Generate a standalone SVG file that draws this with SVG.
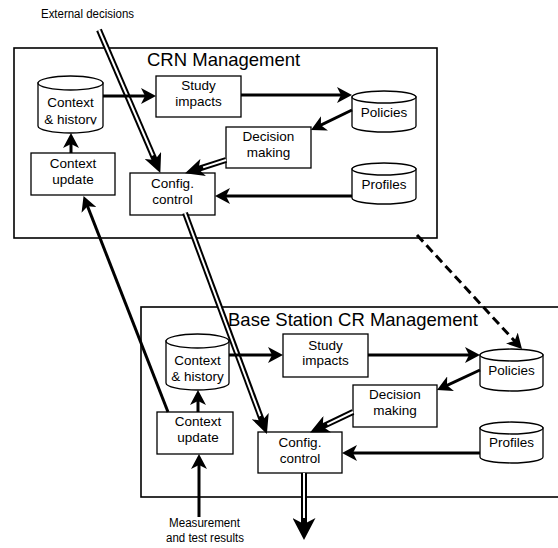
<svg xmlns="http://www.w3.org/2000/svg" width="558" height="548" viewBox="0 0 558 548">
<style>
.frame{fill:none;stroke:#000;stroke-width:1.6}
.nd{fill:#fff;stroke:#000;stroke-width:1.3}
.t{font-family:"Liberation Sans",Arial,sans-serif;font-size:13.5px;fill:#000;text-anchor:middle}
.title{font-family:"Liberation Sans",Arial,sans-serif;font-size:18.5px;fill:#000}
.sm{font-family:"Liberation Sans",Arial,sans-serif;font-size:12px;fill:#000;text-anchor:middle}
.a{fill:none;stroke:#000;stroke-width:3;marker-end:url(#ah)}
.d{fill:none;stroke:#000;stroke-width:3;stroke-dasharray:9 5;marker-end:url(#ah)}
.db{fill:none;stroke:#000;stroke-width:6;marker-end:url(#dh)}
.db2{fill:none;stroke:#000;stroke-width:6;marker-end:url(#dh2)}
.dw{fill:none;stroke:#fff;stroke-width:2}
</style>
<defs>
<marker id="ah" markerUnits="userSpaceOnUse" markerWidth="15" markerHeight="16" refX="11" refY="8" orient="auto" viewBox="0 0 15 16">
<path d="M0,0 L15,8 L0,16 L4,8 z" fill="#000"/>
</marker>
<marker id="dh" markerUnits="userSpaceOnUse" markerWidth="19" markerHeight="18" refX="9" refY="9" orient="auto" viewBox="0 0 19 18">
<path d="M0,0 L19,9 L0,18 L5,9 z" fill="#000"/>
</marker>
<marker id="dh2" markerUnits="userSpaceOnUse" markerWidth="22" markerHeight="23" refX="10" refY="11.5" orient="auto" viewBox="0 0 22 23">
<path d="M0,0 L22,11.5 L0,23 L6,11.5 z" fill="#000"/>
</marker>
<clipPath id="clipH1"><rect x="30" y="80" width="80" height="44.5"/></clipPath>
</defs>

<g id="crn-management">
<rect class="frame" x="14" y="48" width="423" height="190"/>
<text class="title" x="147" y="66">CRN Management</text>
</g>
<g id="bs-management">
<rect class="frame" x="141" y="307" width="425" height="190"/>
<text class="title" x="228" y="326">Base Station CR Management</text>
</g>

<g id="ctx1">
<path class="nd" d="M38,83 V126 A32.5,7 0 0 0 103,126 V83 Z"/>
<ellipse class="nd" cx="70.5" cy="83" rx="32.5" ry="7"/>
<text class="t" x="70.5" y="107">Context</text>
<text class="t" x="70.5" y="124" clip-path="url(#clipH1)">&amp; history</text>
</g>
<g id="study1">
<rect class="nd" x="156" y="76" width="85" height="41"/>
<text class="t" x="198.5" y="90">Study</text>
<text class="t" x="198.5" y="106">impacts</text>
</g>
<g id="update1">
<rect class="nd" x="31" y="153" width="84" height="42"/>
<text class="t" x="73" y="168">Context</text>
<text class="t" x="73" y="184">update</text>
</g>
<g id="config1">
<rect class="nd" x="130" y="173" width="85" height="42"/>
<text class="t" x="172.5" y="188">Config.</text>
<text class="t" x="172.5" y="204">control</text>
</g>
<g id="decision1">
<rect class="nd" x="226" y="127" width="85" height="41"/>
<text class="t" x="268.5" y="141">Decision</text>
<text class="t" x="268.5" y="157">making</text>
</g>
<g id="policies1">
<path class="nd" d="M352,97 V126 A32,6 0 0 0 416,126 V97 Z"/>
<ellipse class="nd" cx="384" cy="97" rx="32" ry="6"/>
<text class="t" x="384" y="117">Policies</text>
</g>
<g id="profiles1">
<path class="nd" d="M352,169 V198 A32,6 0 0 0 416,198 V169 Z"/>
<ellipse class="nd" cx="384" cy="169" rx="32" ry="6"/>
<text class="t" x="384" y="189">Profiles</text>
</g>

<g id="ctx2">
<path class="nd" d="M166,341 V383 A31.5,7 0 0 0 229,383 V341 Z"/>
<ellipse class="nd" cx="197.5" cy="341" rx="31.5" ry="7"/>
<text class="t" x="197.5" y="365">Context</text>
<text class="t" x="197.5" y="381">&amp; history</text>
</g>
<g id="study2">
<rect class="nd" x="283" y="334" width="85" height="43"/>
<text class="t" x="325.5" y="350">Study</text>
<text class="t" x="325.5" y="365">impacts</text>
</g>
<g id="update2">
<rect class="nd" x="157" y="412" width="76" height="42"/>
<text class="t" x="198" y="426">Context</text>
<text class="t" x="198" y="442">update</text>
</g>
<g id="config2">
<rect class="nd" x="258" y="432" width="84" height="41"/>
<text class="t" x="300" y="447">Config.</text>
<text class="t" x="300" y="463">control</text>
</g>
<g id="decision2">
<rect class="nd" x="353" y="385" width="84" height="42"/>
<text class="t" x="395" y="399">Decision</text>
<text class="t" x="395" y="415">making</text>
</g>
<g id="policies2">
<path class="nd" d="M480,355 V385 A31.5,6 0 0 0 543,385 V355 Z"/>
<ellipse class="nd" cx="511.5" cy="355" rx="31.5" ry="6"/>
<text class="t" x="511.5" y="375">Policies</text>
</g>
<g id="profiles2">
<path class="nd" d="M480,428 V457 A31.5,6 0 0 0 543,457 V428 Z"/>
<ellipse class="nd" cx="511.5" cy="428" rx="31.5" ry="6"/>
<text class="t" x="511.5" y="447">Profiles</text>
</g>

<g id="labels">
<text class="sm" x="87.5" y="18" textLength="93" lengthAdjust="spacingAndGlyphs">External decisions</text>
<text class="sm" x="204.5" y="527" textLength="71" lengthAdjust="spacingAndGlyphs">Measurement</text>
<text class="sm" x="205" y="542" textLength="78" lengthAdjust="spacingAndGlyphs">and test results</text>
</g>

<g id="connectors">
<path class="db" d="M99,30 L156.4,163.7"/>
<path class="dw" d="M99,30 L152.9,155.5"/>
<path class="db" d="M226,160 L194.6,170.2"/>
<path class="dw" d="M226,160 L203.1,167.4"/>
<path class="db" d="M185,213 L263.4,424.6"/>
<path class="dw" d="M185,213 L260.2,416.2"/>
<path class="db" d="M353,412 L319.1,428.1"/>
<path class="dw" d="M353,412 L327.3,424.3"/>
<path class="db2" d="M304,473 L304,528"/>
<path class="dw" d="M304,473 L304,518"/>
<path class="a" d="M103,96 L152,96"/>
<path class="a" d="M71,153 L71,137"/>
<path class="a" d="M241,95 L348,95"/>
<path class="a" d="M352,110 L314.6,128.2"/>
<path class="a" d="M352,196 L219,196"/>
<path class="a" d="M168,412 L85,199.7"/>
<path class="a" d="M229,355 L279,355"/>
<path class="a" d="M198,412 L198,394"/>
<path class="a" d="M199,517 L199,458"/>
<path class="a" d="M368,355 L476,355"/>
<path class="a" d="M480,370 L440.6,388.3"/>
<path class="a" d="M480,453 L346,453"/>
<path class="d" d="M417,235 L519.3,346.1"/>
</g>
</svg>
